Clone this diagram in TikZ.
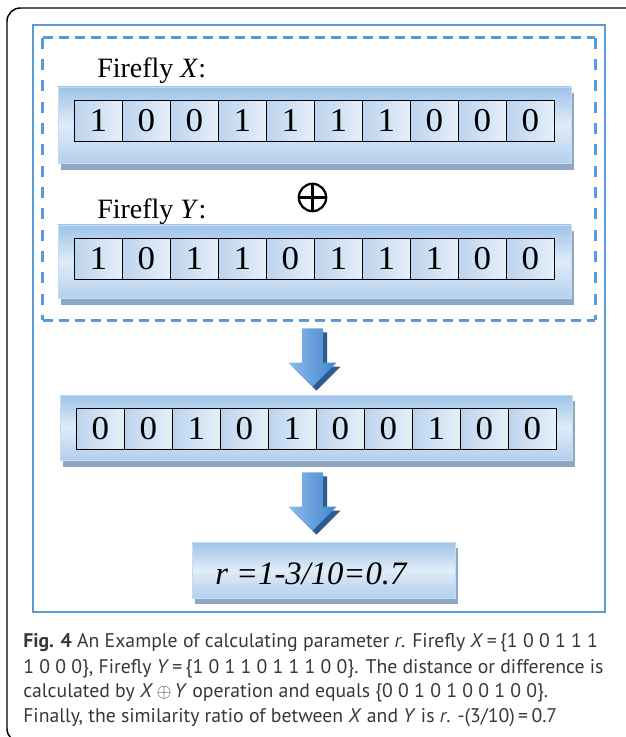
\documentclass[tikz,border=0pt]{standalone}
\usepackage{fontspec}
\setmainfont{Liberation Serif}
\newfontfamily\capfont{PT Sans}
\usetikzlibrary{fit,calc}
\definecolor{frameblue}{HTML}{5B9BD5}
\definecolor{panelA}{HTML}{9EC3E9}
\definecolor{panelB}{HTML}{E0ECF8}
\definecolor{panelC}{HTML}{B3CFEE}
\definecolor{paneledge}{HTML}{C6DCF2}
\definecolor{shadowc}{HTML}{8FA7C3}
\definecolor{cellL}{HTML}{BCD4EE}
\definecolor{cellR}{HTML}{E6EFF9}
\definecolor{arrowL}{HTML}{8CBBE8}
\definecolor{arrowR}{HTML}{4384D0}
\definecolor{arrowS}{HTML}{2D5B8E}
\definecolor{captext}{HTML}{383838}
\newcommand{\arrowshape}[2]{($(#1)+(-10.5,0)$) -- ($(#1)+(10.5,0)$) -- ($(#2)+(10.5,-24)$) -- ($(#2)+(24,-24)$) -- (#2) -- ($(#2)+(-24,-24)$) -- ($(#2)+(-10.5,-24)$) -- cycle}
\newcommand{\digit}[1]{\scalebox{1.05}[1]{#1}}
\begin{document}
\begin{tikzpicture}[x=0.75pt,y=-0.75pt,
  panel/.style={draw=paneledge, line width=0.6pt, top color=panelA, bottom color=panelC, middle color=panelB, inner sep=0pt},
  cell/.style={draw=black, line width=0.6pt, left color=cellL, right color=cellR, minimum width=36pt, minimum height=30.75pt, inner sep=0pt, anchor=north west, font=\fontsize{25pt}{28pt}\selectfont},
  fflabel/.style={anchor=base west, inner sep=0pt, font=\fontsize{21pt}{24pt}\selectfont},
  capline/.style={anchor=base west, text=captext, inner sep=0pt, font=\capfont\fontsize{14.8pt}{17pt}\selectfont},
  frame/.style={draw=frameblue, line width=1.2pt},
  dashh/.style={draw=frameblue, line width=2pt, dash pattern=on 7.8pt off 4.2pt},
  dashv/.style={draw=frameblue, line width=2pt, dash pattern=on 8.2pt off 7.8pt}
]
\useasboundingbox (0,0) rectangle (625,737);
% outer black frame
\draw[line width=1.1pt, rounded corners=10pt] (7,8) rectangle (645,742);
% blue frame
\node[frame, fit={(33,25)(605,612)}, inner sep=0pt] (outer) {};
% dashed group
\node[fit={(43,38)(595,320)}, inner sep=0pt] (dash) {};
\draw[dashh] (dash.north west) -- (dash.north east);
\draw[dashh] (dash.south west) -- (dash.south east);
\draw[dashv] (dash.north west) -- (dash.south west);
\draw[dashv] (dash.north east) -- (dash.south east);

% Firefly X
\node[fflabel] (lx) at (97,78) {Firefly \textit{X}:};
\fill[shadowc] (61,93) rectangle (574,170);
\node[panel, fit={(58,87)(571,163)}] (px) {};
\foreach \d [count=\i] in {1,0,0,1,1,1,1,0,0,0}
  \node[cell] (x\i) at ({74+48*(\i-1)},100) {\digit{\d}};

% XOR symbol
\node[circle, draw, line width=1.7pt, minimum size=20.5pt, inner sep=0pt] (op) at (312.5,197.5) {};
\draw[line width=1.7pt] (op.north) -- (op.south) (op.west) -- (op.east);

% Firefly Y
\node[fflabel] (ly) at (97,219) {Firefly \textit{Y}:};
\fill[shadowc] (61,231) rectangle (574,305);
\node[panel, fit={(58,225)(571,298)}] (py) {};
\foreach \d [count=\i] in {1,0,1,1,0,1,1,1,0,0}
  \node[cell] (y\i) at ({74+48*(\i-1)},238) {\digit{\d}};

% result
\fill[shadowc] (63,401) rectangle (575,467);
\node[panel, fit={(60,395)(572,460)}] (res) {};
\foreach \d [count=\i] in {0,0,1,0,1,0,0,1,0,0}
  \node[cell] (z\i) at ({76+48*(\i-1)},408) {\digit{\d}};

% r panel
\fill[shadowc] (195,548) rectangle (458,604);
\node[panel, fit={(192,542)(455,598)}] (rp) {};
\node[anchor=base west, inner sep=0pt, font=\fontsize{24.5pt}{28pt}\selectfont\itshape] (rt) at (215,584) {r =1-3/10=0.7};

% arrows
\coordinate (s1) at ($(op |- dash.south)+(0,8)$);
\coordinate (t1) at ($(op |- res.north)+(0,-8)$);
\coordinate (s1b) at ($(s1)+(4,4)$);
\coordinate (t1b) at ($(t1)+(4,4)$);
\fill[arrowS] \arrowshape{s1b}{t1b};
\shade[left color=arrowL, right color=arrowR] \arrowshape{s1}{t1};

\coordinate (s2) at ($(op |- res.south)+(0,12)$);
\coordinate (t2) at ($(op |- rp.north)+(0,-11)$);
\coordinate (s2b) at ($(s2)+(4,4)$);
\coordinate (t2b) at ($(t2)+(4,4)$);
\fill[arrowS] \arrowshape{s2b}{t2b};
\shade[left color=arrowL, right color=arrowR] \arrowshape{s2}{t2};

% caption
\node[capline] (c1) at (23,647) {\textbf{Fig. 4} An Example of calculating parameter \textit{r}. Firefly \textit{X}\,=\,\{1 0 0 1 1 1};
\node[capline] (c2) at (23,673) {1 0 0 0\}, Firefly \textit{Y}\,=\,\{1 0 1 1 0 1 1 1 0 0\}. The distance or difference is};
\node[capline] (c3) at (23,697) {calculated by \textit{X}\,{\Large$\oplus$}\,\textit{Y} operation and equals \{0 0 1 0 1 0 0 1 0 0\}.};
\node[capline] (c4) at (23,722) {Finally, the similarity ratio of between \textit{X} and \textit{Y} is \textit{r}. -(3/10)\,=\,0.7};
\end{tikzpicture}
\end{document}
